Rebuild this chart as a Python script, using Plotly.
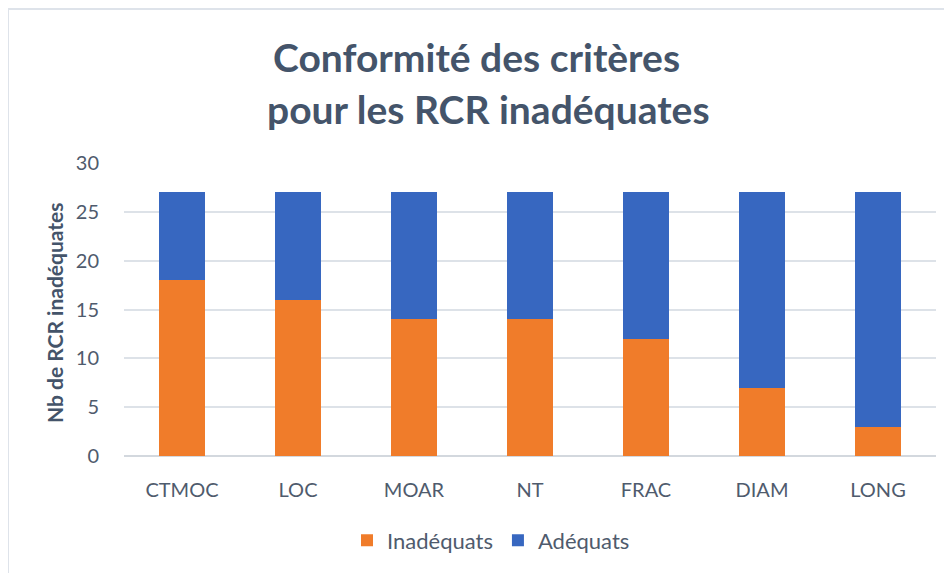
import plotly.graph_objects as go

categories = ["CTMOC", "LOC", "MOAR", "NT", "FRAC", "DIAM", "LONG"]
inadequats = [18, 16, 14, 14, 12, 7, 3]
adequats = [9, 11, 13, 13, 15, 20, 24]
y_ticks = [0, 5, 10, 15, 20, 25, 30]

title_line1 = "Conformité des critères"
title_line2 = "pour les RCR inadéquates"
y_title = "Nb de RCR inadéquates"

OFF = 8  # page body margin
W, H = 952 - OFF, 573 - OFF
L, R, T, B = 124 - OFF, 16, 163 - OFF, 115
pw, ph = W - L - R, H - T - B

def px_x(x):
    return (x - OFF - L) / pw

def px_y(y):
    return (H - B - (y - OFF)) / ph

text_color = "#44546A"
tick_color = "#4F5B6D"
font = "Lato, 'Open Sans', sans-serif"

fig = go.Figure()
fig.add_trace(go.Bar(x=categories, y=inadequats, name="Inadéquats",
                     marker=dict(color="#F07C2A", line=dict(width=0))))
fig.add_trace(go.Bar(x=categories, y=adequats, name="Adéquats",
                     marker=dict(color="#3767C0", line=dict(width=0))))

fig.update_layout(
    width=W, height=H,
    margin=dict(l=L, r=R, t=T, b=B),
    barmode="stack", bargap=0.6,
    paper_bgcolor="white", plot_bgcolor="white",
    font=dict(family=font, color=tick_color),
    legend=dict(orientation="h", x=px_x(491), xanchor="center",
                y=px_y(543), yanchor="middle",
                font=dict(size=22, color=tick_color),
                traceorder="normal"),
    xaxis=dict(showgrid=False, showline=False, ticks="",
               tickfont=dict(size=20, color=tick_color),
               ticklabelstandoff=20),
    yaxis=dict(range=[0, 30], tickvals=y_ticks, showgrid=True,
               gridcolor="#DDE2E8", gridwidth=2, zeroline=True,
               zerolinecolor="#D3D8DE", zerolinewidth=2,
               showline=False, ticks="",
               tickfont=dict(size=20, color=tick_color),
               ticklabelstandoff=24),
)

fig.add_annotation(text=title_line1, xref="paper", yref="paper",
                   x=px_x(476), y=px_y(56), xanchor="center", yanchor="middle",
                   showarrow=False,
                   font=dict(size=39, color=text_color, family=font, weight="bold"))
fig.add_annotation(text=title_line2, xref="paper", yref="paper",
                   x=px_x(488), y=px_y(109), xanchor="center", yanchor="middle",
                   showarrow=False,
                   font=dict(size=39, color=text_color, family=font, weight="bold"))
fig.add_annotation(text=y_title, xref="paper", yref="paper",
                   x=px_x(55), y=px_y(314), xanchor="center", yanchor="middle",
                   textangle=-90, showarrow=False,
                   font=dict(size=21, color=text_color, family=font, weight="bold"))

# chart-area border (left and top edges visible)
fig.add_shape(type="line", xref="paper", yref="paper",
              x0=px_x(8), x1=px_x(8), y0=px_y(8), y1=px_y(H + 20),
              line=dict(color="#DEE3EA", width=2))
fig.add_shape(type="line", xref="paper", yref="paper",
              x0=px_x(8), x1=px_x(W + 20), y0=px_y(8), y1=px_y(8),
              line=dict(color="#DEE3EA", width=2))

fig.write_html("out.html")
